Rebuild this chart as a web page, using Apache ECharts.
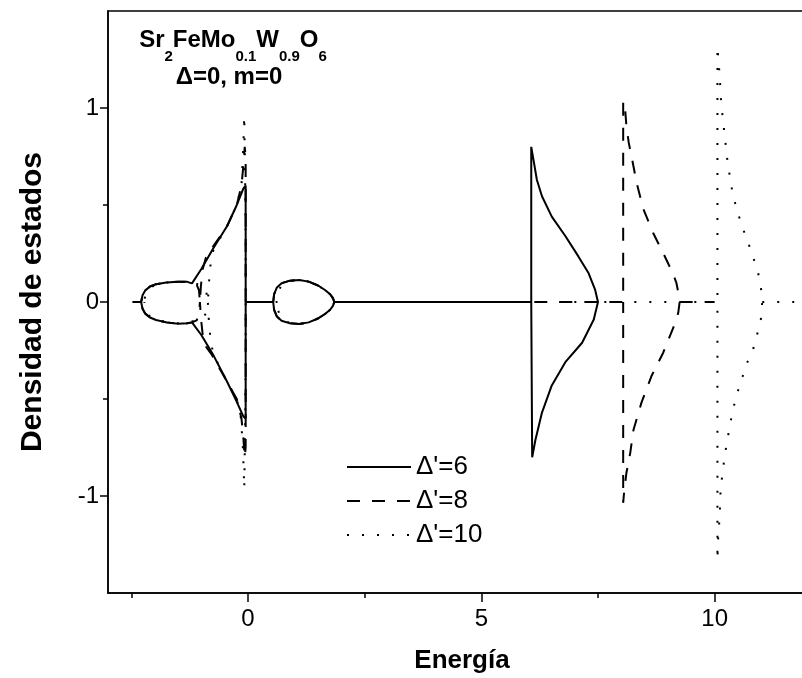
<!DOCTYPE html>
<html>
<head>
<meta charset="utf-8">
<script src="https://cdn.jsdelivr.net/npm/echarts@6/dist/echarts.min.js"></script>
<style>
  html, body { margin: 0; padding: 0; background: #fff; }
  #chart { width: 802px; height: 678px; }
</style>
</head>
<body>
<div id="chart"></div>
<script>
// ---------- data ----------
const seriesNames = ["Δ'=6", "Δ'=8", "Δ'=10"];
const xMajorTicks = [0, 5, 10];
const xMinorTicks = [-2.5, 2.5, 7.5];
const yMajorTicks = [-1, 0, 1];
const yMinorTicks = [-0.5, 0.5];
const xRange = [-3, 12.5];
const yRange = [-1.5, 1.5];

// Δ'=6 (solid) – segments of [energy, DOS]
const solidLobeBand = [[-2.47,0],[-2.29,0],[-2.26,0.035],[-2.2,0.06],[-2.1,0.08],[-1.97,0.092],[-1.75,0.101],[-1.5,0.105],[-1.3,0.104],[-1.2,0.096],[-1.0,0.17],[-0.74,0.278],[-0.45,0.39],[-0.24,0.5],[-0.1,0.585],[-0.05,0.6],
  [-0.05,-0.6],[-0.1,-0.59],[-0.25,-0.51],[-0.45,-0.41],[-0.74,-0.275],[-1.0,-0.17],[-1.2,-0.105],[-1.3,-0.11],[-1.5,-0.112],[-1.75,-0.105],[-1.97,-0.093],[-2.1,-0.08],[-2.2,-0.06],[-2.26,-0.035],[-2.29,0]];
const solidLobe2 = [[-0.05,0],[0.54,0],[0.56,0.04],[0.62,0.075],[0.72,0.097],[0.9,0.11],[1.1,0.113],[1.3,0.105],[1.5,0.085],[1.65,0.062],[1.76,0.04],[1.82,0.02],[1.85,0],
  [1.82,-0.02],[1.76,-0.04],[1.65,-0.062],[1.5,-0.085],[1.3,-0.105],[1.1,-0.113],[0.9,-0.11],[0.72,-0.097],[0.62,-0.075],[0.56,-0.04],[0.54,0]];
const solidPeak = [[1.85,0],[6.07,0],[6.07,0.8],[6.09,0.80],[6.12,0.73],[6.19,0.63],[6.3,0.545],[6.51,0.44],[6.8,0.34],[7.08,0.235],[7.3,0.148],[7.44,0.062],[7.5,0],
  [7.41,-0.09],[7.16,-0.21],[6.8,-0.31],[6.51,-0.43],[6.3,-0.57],[6.16,-0.71],[6.09,-0.8],[6.07,-0.8],[6.07,0]];

// Δ'=8 (dashed)
const dashLobeBand = [[-2.47,0],[-2.29,0],[-2.26,0.035],[-2.2,0.06],[-2.1,0.08],[-1.97,0.092],[-1.75,0.101],[-1.5,0.105],[-1.3,0.104],[-1.2,0.096],[-1.1,0.09],[-1.05,0.06],[-1.03,0],[-1.01,0.08],[-0.97,0.17],[-0.9,0.23],[-0.78,0.275],[-0.45,0.39],[-0.24,0.5],[-0.14,0.6],[-0.1,0.7],[-0.07,0.8],[-0.05,0.75],
  [-0.05,-0.75],[-0.07,-0.8],[-0.1,-0.7],[-0.14,-0.6],[-0.24,-0.5],[-0.45,-0.41],[-0.78,-0.27],[-0.9,-0.23],[-0.97,-0.17],[-1.01,-0.08],[-1.03,0],[-1.05,-0.06],[-1.1,-0.095],[-1.2,-0.105],[-1.3,-0.11],[-1.5,-0.112],[-1.75,-0.105],[-1.97,-0.093],[-2.1,-0.08],[-2.2,-0.06],[-2.26,-0.035],[-2.29,0]];
const dashLobe2 = [[-0.05,0],[0.54,0],[0.56,0.04],[0.62,0.075],[0.72,0.097],[0.9,0.11],[1.1,0.113],[1.3,0.105],[1.5,0.085],[1.65,0.062],[1.76,0.04],[1.82,0.02],[1.85,0],
  [1.82,-0.02],[1.76,-0.04],[1.65,-0.062],[1.5,-0.085],[1.3,-0.105],[1.1,-0.113],[0.9,-0.11],[0.72,-0.097],[0.62,-0.075],[0.56,-0.04],[0.54,0]];
const dashPeak = [[1.85,0],[8.04,0],[8.04,1.035],[8.08,1.0],[8.11,0.905],[8.16,0.82],[8.22,0.75],[8.33,0.613],[8.47,0.48],[8.68,0.357],[8.93,0.236],[9.1,0.15],[9.18,0.099],[9.23,0.04],[9.25,0],
  [9.22,-0.056],[9.15,-0.11],[8.9,-0.26],[8.65,-0.38],[8.43,-0.52],[8.26,-0.66],[8.19,-0.78],[8.11,-0.88],[8.06,-0.98],[8.04,-1.035],[8.04,0]];
const dashTail = [[9.25,0],[10.0,0]];

// Δ'=10 (dotted)
const dotLobeBand = [[-2.47,0],[-2.22,0],[-2.2,0.04],[-2.12,0.07],[-1.97,0.09],[-1.75,0.1],[-1.5,0.104],[-1.3,0.103],[-1.2,0.096],[-1.0,0.09],[-0.9,0.06],[-0.86,0],[-0.84,0.09],[-0.8,0.2],[-0.74,0.27],[-0.45,0.39],[-0.24,0.5],[-0.14,0.6],[-0.11,0.75],[-0.09,0.88],[-0.08,0.96],[-0.06,0.6],[-0.05,0.3],
  [-0.05,-0.3],[-0.06,-0.6],[-0.08,-0.96],[-0.09,-0.88],[-0.11,-0.75],[-0.15,-0.6],[-0.24,-0.5],[-0.45,-0.41],[-0.74,-0.27],[-0.8,-0.2],[-0.84,-0.09],[-0.86,0],[-0.9,-0.06],[-1.0,-0.09],[-1.2,-0.1],[-1.3,-0.108],[-1.5,-0.11],[-1.75,-0.104],[-1.97,-0.09],[-2.12,-0.07],[-2.2,-0.04],[-2.22,0]];
const dotLobe2 = [[-0.05,0],[0.62,0],[0.64,0.04],[0.7,0.08],[0.8,0.1],[0.95,0.11],[1.1,0.113],[1.3,0.105],[1.5,0.085],[1.65,0.062],[1.76,0.04],[1.82,0.02],[1.85,0],
  [1.82,-0.02],[1.76,-0.04],[1.65,-0.062],[1.5,-0.085],[1.3,-0.105],[1.1,-0.113],[0.95,-0.11],[0.8,-0.1],[0.7,-0.08],[0.64,-0.04],[0.62,0]];
const dotPeak = [[1.85,0],[10.06,0],[10.06,1.316],[10.07,1.316],[10.11,1.16],[10.14,1.024],[10.21,0.87],[10.28,0.715],[10.39,0.552],[10.48,0.474],[10.59,0.388],[10.7,0.32],[10.82,0.234],[10.92,0.165],[10.99,0.079],[11.02,0],
  [10.99,-0.09],[10.91,-0.168],[10.82,-0.248],[10.67,-0.327],[10.57,-0.408],[10.46,-0.486],[10.39,-0.563],[10.32,-0.64],[10.27,-0.72],[10.21,-0.795],[10.18,-0.87],[10.13,-0.95],[10.11,-1.095],[10.07,-1.24],[10.06,-1.33],[10.06,0]];
const dotTail = [[11.02,0],[12.5,0]];

const solidSegments = [solidLobeBand, solidLobe2, solidPeak];
const dashSegments = [dashLobeBand, dashLobe2, dashPeak, dashTail];
const dotSegments = [dotLobeBand, dotLobe2, dotPeak, dotTail];

// ---------- build ----------
function joinSegments(segs) {
  const out = [];
  segs.forEach((s, i) => {
    if (i > 0) out.push(['-', '-']);
    s.forEach(p => out.push(p));
  });
  return out;
}

const FONT = "'Liberation Sans', Arial, Helvetica, sans-serif";
const chart = echarts.init(document.getElementById('chart'), null, { renderer: 'canvas' });

function mkSeries(name, segs, dash) {
  return {
    name: name,
    type: 'line',
    data: joinSegments(segs),
    symbol: 'none',
    showSymbol: false,
    connectNulls: false,
    clip: true,
    lineStyle: { color: '#000', width: 2, type: dash },
    itemStyle: { color: '#000' },
    emphasis: { disabled: true },
    animation: false
  };
}

const option = {
  animation: false,
  backgroundColor: '#fff',
  // x scale: 700 px per 15 units; right border lies beyond the canvas edge
  grid: { left: 108, top: 11, width: 723.3, height: 582, show: true, borderColor: '#000', borderWidth: 1.5, backgroundColor: 'transparent', outerBoundsMode: 'none', containLabel: false },
  legend: {
    orient: 'vertical', left: 346, top: 454, padding: 0,
    itemWidth: 64, itemHeight: 1, itemGap: 8,
    selectedMode: false,
    itemStyle: { opacity: 0 },
    textStyle: { fontSize: 26, fontFamily: FONT, color: '#000' },
    data: seriesNames
  },
  xAxis: [
    {
      type: 'value', min: xRange[0], max: xRange[1], position: 'bottom',
      name: 'Energía', nameLocation: 'start', nameGap: -354,
      nameTextStyle: { fontSize: 26, fontWeight: 'bold', fontFamily: FONT, color: '#000', align: 'center', verticalAlign: 'top', padding: [55, 0, 0, 0] },
      axisLine: { show: true, onZero: false, lineStyle: { color: '#000', width: 1.5 } },
      axisTick: { show: true, length: 9, customValues: xMajorTicks, lineStyle: { color: '#000', width: 1.5 } },
      axisLabel: { show: true, customValues: xMajorTicks, margin: 14, fontSize: 24, fontFamily: FONT, color: '#000' },
      splitLine: { show: false }
    },
    {
      type: 'value', min: xRange[0], max: xRange[1], position: 'bottom', gridIndex: 0,
      axisLine: { show: false, onZero: false },
      axisTick: { show: true, length: 5, customValues: xMinorTicks, lineStyle: { color: '#000', width: 1.5 } },
      axisLabel: { show: false },
      splitLine: { show: false }
    }
  ],
  yAxis: [
    {
      type: 'value', min: yRange[0], max: yRange[1], position: 'left',
      name: 'Densidad de estados', nameLocation: 'middle', nameGap: 60,
      nameTextStyle: { fontSize: 30, fontWeight: 'bold', fontFamily: FONT, color: '#000' },
      axisLine: { show: true, onZero: false, lineStyle: { color: '#000', width: 1.5 } },
      axisTick: { show: true, length: 8, customValues: yMajorTicks, lineStyle: { color: '#000', width: 1.5 } },
      axisLabel: { show: true, customValues: yMajorTicks, margin: 9, fontSize: 24, fontFamily: FONT, color: '#000' },
      splitLine: { show: false }
    },
    {
      type: 'value', min: yRange[0], max: yRange[1], position: 'left', gridIndex: 0,
      axisLine: { show: false, onZero: false },
      axisTick: { show: true, length: 5, customValues: yMinorTicks, lineStyle: { color: '#000', width: 1.5 } },
      axisLabel: { show: false },
      splitLine: { show: false }
    }
  ],
  graphic: [
    {
      type: 'text', x: 233, y: 28, z: 100,
      style: {
        text: '{m|Sr}{s|2}{m|FeMo}{s|0.1}{m|W}{s|0.9}{m|O}{s|6}',
        align: 'center', verticalAlign: 'top',
        rich: {
          m: { fontSize: 24, fontWeight: 'bold', fontFamily: FONT, lineHeight: 26, verticalAlign: 'top', fill: '#000' },
          s: { fontSize: 15, fontWeight: 'bold', fontFamily: FONT, lineHeight: 16, padding: [21, 0, 0, 0], verticalAlign: 'top', fill: '#000' }
        }
      }
    },
    {
      type: 'text', x: 229, y: 64, z: 100,
      style: {
        text: 'Δ=0, m=0', align: 'center', verticalAlign: 'top',
        fontSize: 24, fontWeight: 'bold', fontFamily: FONT, lineHeight: 26, fill: '#000'
      }
    }
  ],
  series: [
    mkSeries(seriesNames[0], solidSegments, 'solid'),
    mkSeries(seriesNames[1], dashSegments, [13, 12]),
    mkSeries(seriesNames[2], dotSegments, [2, 13])
  ]
};
chart.setOption(option);
</script>
</body>
</html>
